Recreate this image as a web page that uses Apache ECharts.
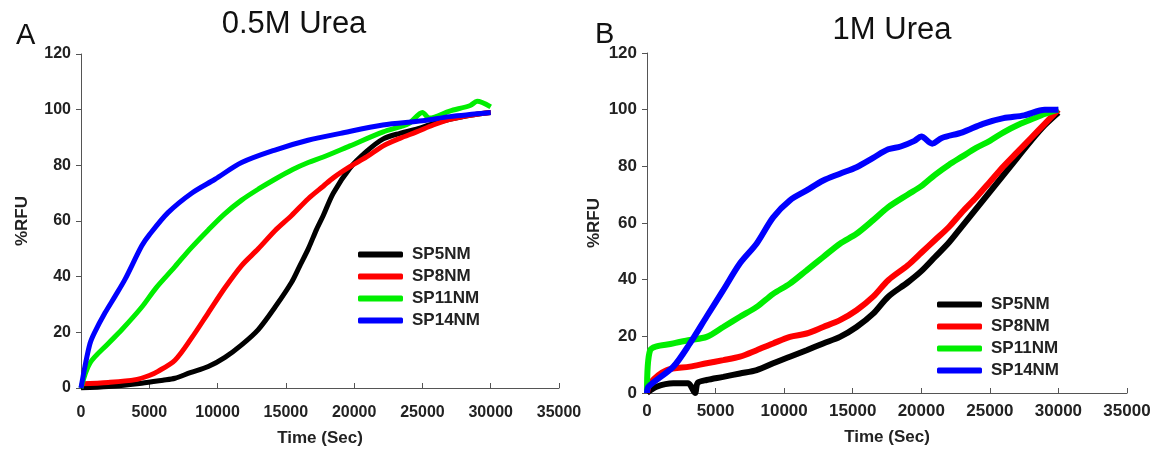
<!DOCTYPE html>
<html><head><meta charset="utf-8">
<script src="https://cdn.jsdelivr.net/npm/echarts@6/dist/echarts.min.js"></script>
<style>html,body{margin:0;padding:0;background:#fff}#c{width:1170px;height:452px}</style>
</head><body><div id="c"></div>
<script>
// ---- data (time in s, %RFU) ----
const seriesNames = ['SP5NM', 'SP8NM', 'SP11NM', 'SP14NM'];
const seriesColors = ['#000000', '#ff0000', '#00ee00', '#0000ff'];
const xTicks = [0, 5000, 10000, 15000, 20000, 25000, 30000, 35000];
const yTicks = [0, 20, 40, 60, 80, 100, 120];

// Panel A: 0.5M Urea
const aSP5 = [[0,0],[2000,0.5],[4440,1.7],[6000,2.8],[6880,3.5],[8000,5.5],[9320,7.7],[10540,11],[11760,15.5],[12980,21],[14200,29],[15420,38],[16030,44],[16640,50],[17250,57],[17740,62],[18470,70],[19690,79],[20910,85],[22130,89.5],[23350,91.5],[24570,93],[25790,95],[27000,96.5],[28500,98],[30000,99]];
const aSP8 = [[0,1.5],[2000,2],[4000,3],[5000,4.5],[5640,6],[6880,10],[8100,18],[9320,27],[10540,36],[11760,44],[12980,50],[14200,56.5],[15420,62],[16640,68],[17740,72.5],[18470,75.5],[19690,79.5],[20910,83],[22130,87],[23350,89.7],[24570,92],[25790,94.5],[27000,96.5],[28500,98],[30000,99]];
const aSP11 = [[0,0],[660,9],[2000,16],[3000,21],[4440,29],[5500,36],[6880,43.6],[8000,50],[9320,56.8],[10500,62.5],[11760,67.5],[13000,71.5],[14200,75],[15500,78.5],[16640,81],[17740,83],[19690,87],[22130,92],[24000,95],[25000,99],[25500,97],[27000,99.5],[28500,101.5],[29000,103],[30000,101]];
const aSP14 = [[0,0],[300,8],[660,16],[1000,20],[1760,27],[2500,33],[3220,39],[4440,51],[5000,55],[6370,63],[8100,70],[9810,75],[11760,81],[14200,85.5],[16620,89],[19000,91.5],[22100,94.5],[25000,96],[27000,97.5],[30000,99]];

// Panel B: 1M Urea
const bSP5 = [[0,0],[700,2.2],[1920,3.4],[3000,3.4],[3500,0],[3700,3.6],[4350,4.6],[5560,5.7],[6780,6.9],[8000,8.1],[9200,10.5],[10420,12.8],[11640,15.1],[12850,17.5],[14070,19.8],[15280,23.3],[16490,28],[17590,34],[19000,39],[20000,43],[21000,48],[22000,53],[23000,59],[24000,65],[25000,71],[26000,77],[27000,83],[28000,89],[29000,94.5],[30000,99]];
const bSP8 = [[0,0],[220,3.4],[1430,8],[3130,9.3],[4350,10.5],[5560,11.6],[6780,12.8],[8000,15.1],[9200,17.5],[10420,19.8],[11640,21],[12850,23.3],[14070,25.7],[15280,29.2],[16490,34],[17590,39.8],[19000,45],[20000,49.5],[21000,54],[22000,58.5],[23000,64],[24000,69],[25000,74.5],[26000,80],[27000,85],[28000,90],[29000,95],[30000,100]];
const bSP11 = [[0,0],[220,15],[1920,17.5],[3130,18.7],[4350,19.8],[5560,23.3],[6780,26.9],[8000,30.4],[9200,35],[10420,38.6],[11640,43.3],[12850,48],[14070,52.7],[15280,56.2],[16490,61],[17590,65.6],[19000,70],[20000,73],[21000,77],[22000,80.5],[23000,83.5],[24000,86.5],[25000,89],[26000,92],[27000,94.5],[28000,96.5],[29000,98.5],[30000,100]];
const bSP14 = [[0,0],[100,2.2],[1920,9.3],[3130,17.5],[4350,27],[5560,36.3],[6780,45.8],[8000,52.8],[9200,62],[10420,68],[11640,71.5],[12850,75],[14070,77.4],[15280,79.7],[16490,83],[17590,86],[18500,87],[19500,89],[20000,90.5],[20800,88],[21500,90],[23000,92],[24500,95],[26000,97],[27500,98],[29000,100],[30000,100]];

const panelA = [aSP5, aSP8, aSP11, aSP14];
const panelB = [bSP5, bSP8, bSP11, bSP14];

const FONT = '"Liberation Sans", Arial, sans-serif';
function xAxis(gi, labelSize, margin, nameGap) {
  return {
    type: 'value', gridIndex: gi, min: 0, max: 35000, interval: 5000,
    name: 'Time (Sec)', nameLocation: 'middle', nameGap: nameGap,
    nameTextStyle: { fontFamily: FONT, fontWeight: 'bold', fontSize: 17, color: '#222' },
    axisLine: { show: true, onZero: false, lineStyle: { color: '#555', width: 1 } },
    axisTick: { show: true, inside: true, length: 5, lineStyle: { color: '#555' } },
    axisLabel: { fontFamily: FONT, fontWeight: 'bold', fontSize: labelSize, color: '#222', margin: margin,
      formatter: v => xTicks.includes(v) ? String(v) : '' },
    splitLine: { show: false }
  };
}
function yAxis(gi, labelSize, nameGap) {
  return {
    type: 'value', gridIndex: gi, min: 0, max: 120, interval: 20,
    name: '%RFU', nameLocation: 'middle', nameGap: nameGap, nameRotate: 90,
    nameTextStyle: { fontFamily: FONT, fontWeight: 'bold', fontSize: 17, color: '#222' },
    axisLine: { show: true, lineStyle: { color: '#555', width: 1 } },
    axisTick: { show: true, inside: false, length: 5, lineStyle: { color: '#555' } },
    axisLabel: { fontFamily: FONT, fontWeight: 'bold', fontSize: labelSize, color: '#222', margin: 10,
      formatter: v => yTicks.includes(v) ? String(v) : '' },
    splitLine: { show: false }
  };
}

const series = [];
[panelA, panelB].forEach((panel, pi) => {
  panel.forEach((data, si) => {
    series.push({
      type: 'line', name: seriesNames[si], xAxisIndex: pi, yAxisIndex: pi,
      data: data, showSymbol: false, smooth: 0.3,
      lineStyle: { color: seriesColors[si], width: pi === 0 ? 5 : 6 },
      itemStyle: { color: seriesColors[si] },
      z: 2 + si
    });
  });
});

function legend(left, top) {
  return {
    orient: 'vertical', left: left, top: top, data: seriesNames,
    icon: 'roundRect', itemWidth: 45, itemHeight: 6, itemGap: 5,
    textStyle: { fontFamily: FONT, fontWeight: 'bold', fontSize: 17, color: '#222', lineHeight: 17, padding: [0,0,0,4] },
    selectedMode: false
  };
}

const chart = echarts.init(document.getElementById('c'), null, { renderer: 'canvas' });
chart.setOption({
  animation: false,
  backgroundColor: '#fff',
  title: [
    { text: '0.5M Urea', left: 289, top: 4, textAlign: 'center',
      textStyle: { fontFamily: FONT, fontWeight: 'normal', fontSize: 31, color: '#111' } },
    { text: '1M Urea', left: 887, top: 10, textAlign: 'center',
      textStyle: { fontFamily: FONT, fontWeight: 'normal', fontSize: 31, color: '#111' } },
    { text: 'A', left: 11, top: 16, textStyle: { fontFamily: FONT, fontWeight: 'normal', fontSize: 29, color: '#111' } },
    { text: 'B', left: 590, top: 15, textStyle: { fontFamily: FONT, fontWeight: 'normal', fontSize: 29, color: '#111' } }
  ],
  grid: [
    { left: 81, top: 54, width: 478, height: 334 },
    { left: 647, top: 53, width: 480, height: 340 }
  ],
  xAxis: [xAxis(0, 16, 17, 42), xAxis(1, 17, 10, 36)],
  yAxis: [yAxis(0, 16, 50), yAxis(1, 17, 44)],
  legend: [legend(353, 241), legend(932, 291)],
  series: series
});
</script></body></html>
